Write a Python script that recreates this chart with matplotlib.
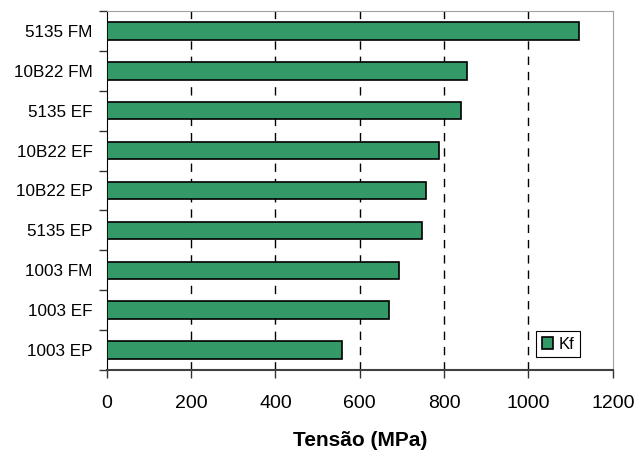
import matplotlib.pyplot as plt
from matplotlib.ticker import MultipleLocator

plt.rcParams['font.family'] = ['Liberation Sans', 'DejaVu Sans']

# dados (de baixo para cima)
amostras = ['1003 EP', '1003 EF', '1003 FM', '5135 EP', '10B22 EP',
            '10B22 EF', '5135 EF', '10B22 FM', '5135 FM']
kf = [559, 669, 692, 747, 758, 788, 840, 854, 1120]

fig = plt.figure(figsize=(6.37, 4.54), dpi=100)
ax = fig.add_axes([0.1675, 0.185, 0.7945, 0.7908])

pos = list(range(len(amostras)))
ax.barh(pos, kf, height=0.44, color='#339966', edgecolor='black',
        linewidth=1.2, label='Kf', zorder=3)

ax.set_xlim(0, 1200)
ax.set_ylim(-0.5, len(amostras) - 0.5)
ax.xaxis.set_major_locator(MultipleLocator(200))

# marcas do eixo y entre as categorias
ax.set_yticks([p - 0.5 for p in pos] + [len(amostras) - 0.5])
ax.set_yticklabels([])
ax.set_yticks(pos, minor=True)
ax.set_yticklabels(amostras, minor=True, fontsize=12.3)
ax.tick_params(axis='y', which='minor', length=0, pad=10)
ax.tick_params(axis='y', which='major', length=6, width=1, color='#333333')
ax.tick_params(axis='x', length=6, width=1, color='#333333', labelsize=14, pad=12)

for v in range(200, 1200, 200):
    ax.axvline(v, color='black', linestyle=(0, (6, 5)), linewidth=1, zorder=1)

ax.spines['top'].set_color('#a0a0a0')
ax.spines['right'].set_color('#a0a0a0')
ax.spines['left'].set_color('black')
ax.spines['bottom'].set_color('#404040')
ax.spines['bottom'].set_linewidth(1.5)

ax.set_xlabel('Tensão (MPa)', fontsize=15, fontweight='bold', labelpad=14)

leg = ax.legend(loc='lower right', bbox_to_anchor=(0.935, 0.035), fontsize=12,
                handlelength=0.7, handleheight=0.7, handletextpad=0.3,
                borderpad=0.35, fancybox=False, framealpha=1, borderaxespad=0)
leg.get_frame().set_edgecolor('black')
leg.get_frame().set_linewidth(0.8)

fig.savefig('out.png', dpi=100)
